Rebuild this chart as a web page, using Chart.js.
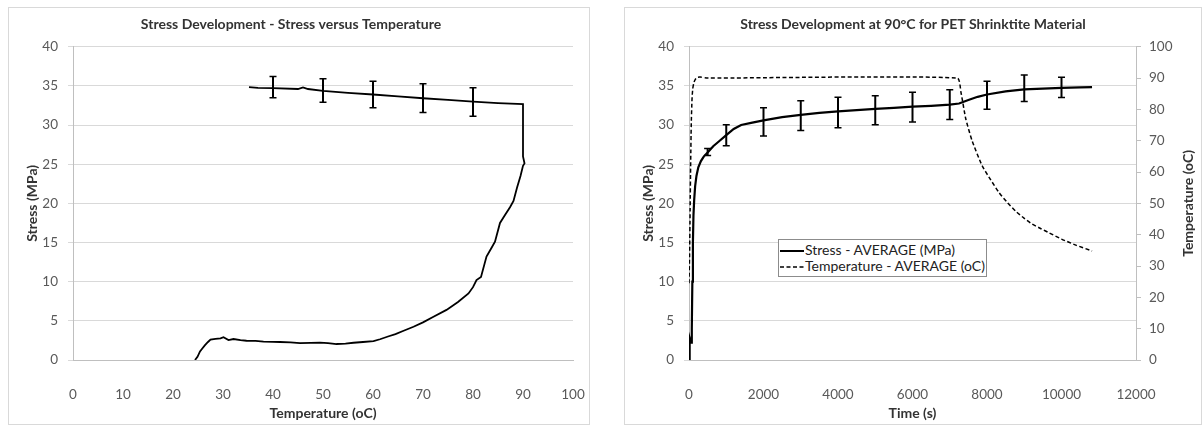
<!DOCTYPE html>
<html>
<head>
<meta charset="utf-8">
<script src="https://cdn.jsdelivr.net/npm/chart.js@4.4.1/dist/chart.umd.min.js"></script>
<style>
  body { margin: 0; background: #fff; width: 1202px; height: 426px; overflow: hidden; position: relative; font-family: Lato, sans-serif; }
  .box { position: absolute; top: 7px; border: 1px solid #d9d9d9; background: #fff; }
  #leftBox { left: 8px; }
  #rightBox { left: 624px; }
  canvas { display: block; }
  #legend { position: absolute; left: 778px; top: 239px; width: 209px; height: 38px; border: 1px solid #8c8c8c; background: #fff; font-size: 14px; color: #222; box-sizing: border-box; padding-top: 2px; }
  #legend .row { height: 16px; line-height: 16px; white-space: nowrap; }
  #legend svg { vertical-align: middle; margin: 0 1px 0 1px; }
</style>
</head>
<body>
<div class="box" id="leftBox"><canvas id="leftChart" width="580" height="416"></canvas></div>
<div class="box" id="rightBox"><canvas id="rightChart" width="576" height="416"></canvas></div>
<div id="legend"></div>
<script>
// left chart: stress vs temperature
const tempC = [24.4, 24.9, 25.4, 25.9, 26.4, 27.0, 27.5, 28.5, 29.5, 30.1,
  31.1, 32.1, 33.5, 34.7, 36.5, 38.1, 40, 41.4, 43.5, 45.4,
  47.5, 49.4, 51, 52.7, 54.5, 56.1, 58, 60.1, 61.4, 63,
  64.5, 66, 68.1, 70, 72, 74.7, 77, 79.1, 80, 80.7,
  81.6, 82.7, 83.6, 84.4, 85.4, 86.4, 87.4, 88.1, 88.8, 89.5,
  90, 90.3, 90, 90,
  85, 80, 75, 70, 65, 60, 55, 50, 47, 46,
  45, 40, 37, 35.2];
const stressT = [0, 0.4, 1.1, 1.5, 1.9, 2.3, 2.6, 2.7, 2.75, 2.9,
  2.55, 2.68, 2.55, 2.46, 2.45, 2.35, 2.32, 2.3, 2.25, 2.15,
  2.18, 2.22, 2.15, 2.04, 2.1, 2.2, 2.3, 2.4, 2.65, 3.0,
  3.3, 3.7, 4.25, 4.8, 5.5, 6.4, 7.4, 8.5, 9.3, 10.2,
  10.6, 13.2, 14.2, 15.1, 17.5, 18.5, 19.5, 20.3, 22, 23.5,
  24.8, 25.1, 26.0, 32.67,
  32.8, 33.0, 33.2, 33.42, 33.65, 33.9, 34.1, 34.35, 34.6, 34.8,
  34.6, 34.7, 34.75, 34.83];
const errTemp = [40, 50, 60, 70, 80];
const errMeanT = [34.83, 34.4, 33.9, 33.43, 32.93];
const errSdT = [1.36, 1.5, 1.7, 1.83, 1.82];

// right chart: stress and temperature vs time
const timeS = [0, 10, 25, 40, 60, 75, 90, 105, 120, 140,
  165, 200, 250, 320, 400, 500, 650, 800, 1000, 1200,
  1400, 1700, 2000, 2500, 3000, 3500, 4000, 4500, 5000, 5500,
  6000, 6500, 7000, 7250, 7500, 7750, 8000, 8500, 9000, 9500,
  10000, 10500, 10820];
const stressS = [0, 2.5, 2.8, 2.4, 2.2, 4.0, 10, 15, 18.5, 20.5,
  22.2, 23.5, 24.6, 25.4, 26.0, 26.5, 27.3, 27.9, 28.7, 29.5,
  30.0, 30.3, 30.6, 31.0, 31.3, 31.55, 31.75, 31.9, 32.05, 32.2,
  32.35, 32.45, 32.6, 32.75, 33.2, 33.6, 33.9, 34.3, 34.55, 34.65,
  34.75, 34.8, 34.85];
const tempTime = [0, 15, 30, 45, 60, 80, 100, 130, 170, 220,
  300, 500, 7200, 7300, 7430, 7600, 7870, 8100, 8320, 8550,
  8770, 9000, 9210, 9450, 9665, 10000, 10400, 10820];
const tempVals = [24.5, 33, 48, 63, 75, 83, 86.5, 88.5, 89.6, 90.2,
  90.3, 90, 90, 85.5, 77, 70, 62, 57.5, 53.5, 50.2,
  47.5, 45.2, 43.4, 41.9, 40.6, 38.6, 36.6, 34.8];
const errTime = [500, 1000, 2000, 3000, 4000, 5000, 6000, 7000, 8000, 9000, 10000];
const errMeanS = [26.55, 28.7, 30.4, 31.2, 31.6, 31.9, 32.3, 32.6, 33.8, 34.7, 34.8];
const errSdS = [0.45, 1.35, 1.8, 1.9, 1.95, 1.85, 1.9, 1.9, 1.8, 1.7, 1.3];

const toXY = (xs, ys) => xs.map((x, i) => ({ x: x, y: ys[i] }));

// error bars drawn through the chart's scales
const errorBars = {
  id: "errorBars",
  afterDatasetsDraw(chart, args, opts) {
    const { ctx } = chart;
    const xs = chart.scales.x, ys = chart.scales.y;
    ctx.save();
    ctx.strokeStyle = "#000";
    opts.x.forEach((xv, i) => {
      const px = xs.getPixelForValue(xv);
      const top = ys.getPixelForValue(opts.mean[i] + opts.sd[i]);
      const bot = ys.getPixelForValue(opts.mean[i] - opts.sd[i]);
      ctx.lineWidth = 2;
      ctx.beginPath();
      ctx.moveTo(px, top); ctx.lineTo(px, bot);
      ctx.stroke();
      ctx.lineWidth = 1.5;
      ctx.beginPath();
      ctx.moveTo(px - opts.cap, top); ctx.lineTo(px + opts.cap, top);
      ctx.moveTo(px - opts.cap, bot); ctx.lineTo(px + opts.cap, bot);
      ctx.stroke();
    });
    ctx.restore();
  }
};

// secondary axis title, rotated like the primary one
const sideTitle = {
  id: "sideTitle",
  afterDraw(chart, args, opts) {
    if (!opts.text) return;
    const s = chart.scales[opts.axis];
    const { ctx, chartArea } = chart;
    ctx.save();
    ctx.translate(s.right - opts.offset, (chartArea.top + chartArea.bottom) / 2);
    ctx.rotate(-Math.PI / 2);
    ctx.font = "bold 14px Lato";
    ctx.fillStyle = "#333";
    ctx.textAlign = "center";
    ctx.textBaseline = "middle";
    ctx.fillText(opts.text, 0, 0);
    ctx.restore();
  }
};

const tickFont = { size: 13.5 };
const plainNum = v => String(v);
const axisTitle = (text, pad) => ({ display: true, text: text, color: "#333", font: { size: 14, weight: "bold" }, padding: pad });
// keep the x axis from reserving room for its end labels
const fixX = s => { s.height = 64; s.paddingLeft = 0; s.paddingRight = 0; };

function drawCharts() {
  Chart.defaults.font.family = "Lato";
  Chart.defaults.color = "#595959";

  new Chart(document.getElementById("leftChart"), {
    type: "scatter",
    data: {
      datasets: [{
        label: "Stress",
        data: toXY(tempC, stressT),
        showLine: true,
        borderColor: "#000",
        borderWidth: 1.8,
        pointRadius: 0,
        tension: 0
      }]
    },
    options: {
      responsive: false,
      animation: false,
      layout: { padding: { right: 16 } },
      plugins: {
        legend: { display: false },
        tooltip: { enabled: false },
        title: {
          display: true,
          text: "Stress Development - Stress versus Temperature",
          color: "#333",
          font: { size: 14, weight: "bold" },
          padding: { top: 8, bottom: 13.9 }
        },
        errorBars: { x: errTemp, mean: errMeanT, sd: errSdT, cap: 3.5 }
      },
      scales: {
        x: {
          type: "linear", min: 0, max: 100,
          ticks: { stepSize: 10, padding: 19, font: tickFont, autoSkip: false, maxRotation: 0, callback: plainNum },
          grid: { display: false },
          border: { display: true, color: "#bfbfbf" },
          title: axisTitle("Temperature (oC)", { top: 0, bottom: 2 }),
          afterFit: fixX
        },
        y: {
          min: 0, max: 40,
          ticks: { stepSize: 5, padding: 10, font: tickFont, callback: plainNum },
          grid: { color: "#d9d9d9", tickLength: 5 },
          border: { display: true, color: "#bfbfbf" },
          title: axisTitle("Stress (MPa)", { top: 15.5, bottom: 0 }),
          afterFit(s) { s.width = 64; }
        }
      }
    },
    plugins: [errorBars]
  });

  const right = new Chart(document.getElementById("rightChart"), {
    type: "scatter",
    data: {
      datasets: [{
        label: "Stress - AVERAGE (MPa)",
        data: toXY(timeS, stressS),
        showLine: true,
        borderColor: "#000",
        borderWidth: 2.2,
        pointRadius: 0,
        tension: 0,
        yAxisID: "y"
      }, {
        label: "Temperature - AVERAGE (oC)",
        data: toXY(tempTime, tempVals),
        showLine: true,
        borderColor: "#000",
        borderWidth: 1.5,
        borderDash: [4, 2.5],
        pointRadius: 0,
        tension: 0.2,
        yAxisID: "y2"
      }]
    },
    options: {
      responsive: false,
      animation: false,
      plugins: {
        legend: { display: false },
        tooltip: { enabled: false },
        title: {
          display: true,
          text: "Stress Development at 90\u00b0C for PET Shrinktite Material",
          color: "#333",
          font: { size: 14, weight: "bold" },
          padding: { top: 8, bottom: 13.9 }
        },
        errorBars: { x: errTime, mean: errMeanS, sd: errSdS, cap: 3.5 },
        sideTitle: { axis: "y2", text: "Temperature (oC)", offset: 13 }
      },
      scales: {
        x: {
          type: "linear", min: 0, max: 12000,
          ticks: { stepSize: 2000, padding: 19, font: tickFont, autoSkip: false, maxRotation: 0, callback: plainNum },
          grid: { display: false },
          border: { display: true, color: "#bfbfbf" },
          title: axisTitle("Time (s)", { top: 0, bottom: 2 }),
          afterFit: fixX
        },
        y: {
          min: 0, max: 40,
          ticks: { stepSize: 5, padding: 10, font: tickFont, callback: plainNum },
          grid: { color: "#d9d9d9", tickLength: 5 },
          border: { display: true, color: "#bfbfbf" },
          title: axisTitle("Stress (MPa)", { top: 15.5, bottom: 0 }),
          afterFit(s) { s.width = 64; }
        },
        y2: {
          position: "right",
          min: 0, max: 100,
          ticks: { stepSize: 10, padding: 8, font: tickFont, callback: plainNum },
          grid: { drawOnChartArea: false, color: "#bfbfbf", tickLength: 5 },
          border: { display: true, color: "#bfbfbf" },
          afterFit(s) { s.width = 65; }
        }
      }
    },
    plugins: [errorBars, sideTitle]
  });

  // legend box inside the plot, built from the dataset labels
  const legend = document.getElementById("legend");
  right.data.datasets.forEach(ds => {
    const dash = ds.borderDash ? ds.borderDash.join(",") : "none";
    legend.insertAdjacentHTML("beforeend",
      '<div class="row"><svg width="24" height="4"><line x1="0" y1="2" x2="24" y2="2" stroke="#000" stroke-width="' +
      (ds.borderDash ? 1.5 : 2) + '" stroke-dasharray="' + dash + '"/></svg>' + ds.label + "</div>");
  });
}

Promise.all([
  document.fonts.load("13px Lato"),
  document.fonts.load("bold 13px Lato")
]).then(drawCharts, drawCharts);
</script>
</body>
</html>
